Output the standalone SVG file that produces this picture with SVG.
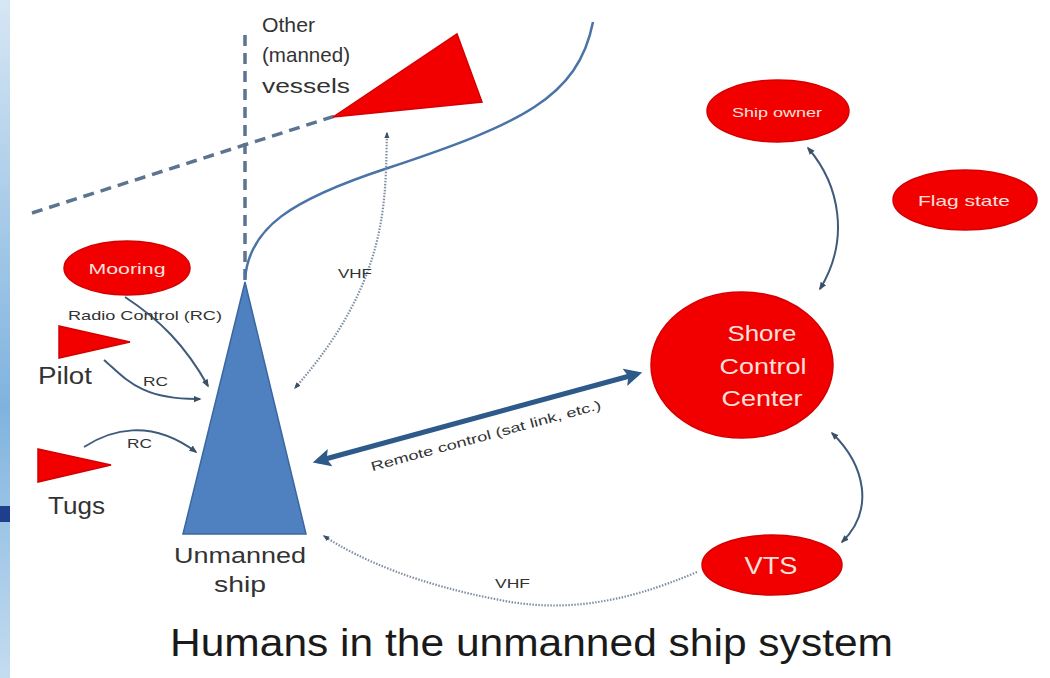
<svg xmlns="http://www.w3.org/2000/svg" width="1050" height="678" viewBox="0 0 1050 678">
<defs>
<linearGradient id="band" x1="0" y1="0" x2="0" y2="1">
<stop offset="0" stop-color="#d6e6f4"/>
<stop offset="0.6" stop-color="#7fb3de"/>
<stop offset="1" stop-color="#c4dcf0"/>
</linearGradient>
<marker id="ah" viewBox="0 0 10 10" refX="8" refY="5" markerWidth="4" markerHeight="4" orient="auto-start-reverse" markerUnits="strokeWidth">
<path d="M0,1 L10,5 L0,9 z" fill="#3b4f66"/>
</marker>
<marker id="ahd" viewBox="0 0 10 10" refX="8" refY="5" markerWidth="3" markerHeight="3" orient="auto-start-reverse" markerUnits="strokeWidth">
<path d="M0,1 L10,5 L0,9 z" fill="#3b4f66"/>
</marker>
<marker id="ahb" viewBox="0 0 10 10" refX="7" refY="5" markerWidth="3.6" markerHeight="3.6" orient="auto-start-reverse" markerUnits="strokeWidth">
<path d="M0,0 L10,5 L0,10 L2,5 z" fill="#2e5a8a"/>
</marker>
</defs>
<style>
.lbl{font-family:"Liberation Sans",Arial,sans-serif;fill:#333}
.wt{font-family:"Liberation Sans",Arial,sans-serif;fill:#fbe0dc}
.red{fill:#f20000;stroke:#d40000;stroke-width:1.5}
.solid{fill:none;stroke:#3f5b7c;stroke-width:2}
.dot{fill:none;stroke:#7f8fa3;stroke-width:2.2;stroke-dasharray:1.5 1.5}
.dash{fill:none;stroke:#5b7490;stroke-width:3.5;stroke-dasharray:11 7}
</style>
<rect width="1050" height="678" fill="#ffffff"/>
<rect x="0" y="0" width="10" height="678" fill="url(#band)"/>
<rect x="0" y="506" width="10" height="16" fill="#1f3f8c"/>

<g id="sea-lanes">
<path class="dash" d="M245,35 L245,280"/>
<path class="dash" d="M32,213 L335,116"/>
<path d="M245,279 C249,228 290,200 388,168 C520,124 578,98 593,22" fill="none" stroke="#4a73a6" stroke-width="2.5"/>
</g>

<g id="other-vessels">
<polygon class="red" points="333,117 457,34 482,102"/>
<text class="lbl" font-size="21" x="262" y="32" textLength="53" lengthAdjust="spacingAndGlyphs">Other</text>
<text class="lbl" font-size="21" x="262" y="62" textLength="88" lengthAdjust="spacingAndGlyphs">(manned)</text>
<text class="lbl" font-size="21" x="262" y="93" textLength="88" lengthAdjust="spacingAndGlyphs">vessels</text>
</g>

<g id="unmanned-ship">
<polygon points="245,282 183,534 306,534" fill="#4f81c0" stroke="#3a67a0" stroke-width="1.5"/>
<text class="lbl" font-size="22" x="240" y="563" text-anchor="middle" textLength="132" lengthAdjust="spacingAndGlyphs">Unmanned</text>
<text class="lbl" font-size="22" x="240" y="592" text-anchor="middle" textLength="52" lengthAdjust="spacingAndGlyphs">ship</text>
</g>

<g id="mooring">
<ellipse class="red" cx="127" cy="268" rx="63" ry="27"/>
<text class="wt" font-size="15" x="127" y="274" text-anchor="middle" textLength="77" lengthAdjust="spacingAndGlyphs">Mooring</text>
</g>

<g id="pilot">
<polygon class="red" points="59,326 130,342 59,358"/>
<text class="lbl" font-size="23" x="38" y="384" textLength="54" lengthAdjust="spacingAndGlyphs">Pilot</text>
</g>

<g id="tugs">
<polygon class="red" points="38,449 111,465 38,482"/>
<text class="lbl" font-size="23" x="48" y="514" textLength="57" lengthAdjust="spacingAndGlyphs">Tugs</text>
</g>

<g id="shore-control-center">
<ellipse class="red" cx="742" cy="365" rx="91" ry="73"/>
<text class="wt" font-size="22" x="762" y="341" text-anchor="middle" textLength="69" lengthAdjust="spacingAndGlyphs">Shore</text>
<text class="wt" font-size="22" x="763" y="374" text-anchor="middle" textLength="87" lengthAdjust="spacingAndGlyphs">Control</text>
<text class="wt" font-size="22" x="762" y="406" text-anchor="middle" textLength="81" lengthAdjust="spacingAndGlyphs">Center</text>
</g>

<g id="ship-owner">
<ellipse class="red" cx="778" cy="111" rx="71" ry="31"/>
<text class="wt" font-size="12" x="777" y="117" text-anchor="middle" textLength="90" lengthAdjust="spacingAndGlyphs">Ship owner</text>
</g>

<g id="flag-state">
<ellipse class="red" cx="965" cy="200" rx="72" ry="30"/>
<text class="wt" font-size="15" x="964" y="206" text-anchor="middle" textLength="92" lengthAdjust="spacingAndGlyphs">Flag state</text>
</g>

<g id="vts">
<ellipse class="red" cx="772" cy="565" rx="70" ry="30"/>
<text class="wt" font-size="24" x="771" y="574" text-anchor="middle" textLength="53" lengthAdjust="spacingAndGlyphs">VTS</text>
</g>

<g id="connectors">
<path class="solid" d="M125,297 C160,320 185,345 208,386" marker-end="url(#ah)"/>
<path class="solid" d="M104,360 C125,378 140,400 200,399" marker-end="url(#ah)"/>
<path class="solid" d="M84,447 C110,430 150,418 196,452" marker-end="url(#ah)"/>
<path class="dot" d="M387,133 C385,200 390,280 295,388" marker-start="url(#ahd)" marker-end="url(#ahd)"/>
<path class="dot" d="M697,572 C620,605 560,612 500,600 C420,585 360,560 324,536" marker-end="url(#ahd)"/>
<path class="solid" d="M808,148 C840,185 850,240 820,289" marker-start="url(#ah)" marker-end="url(#ah)"/>
<path class="solid" d="M832,433 C865,465 875,510 842,542" marker-start="url(#ah)" marker-end="url(#ah)"/>
<line x1="318" y1="461" x2="637" y2="374" stroke="#2e5a8a" stroke-width="5" marker-start="url(#ahb)" marker-end="url(#ahb)"/>
<text class="lbl" font-size="13" x="68" y="320" textLength="154" lengthAdjust="spacingAndGlyphs">Radio Control (RC)</text>
<text class="lbl" font-size="13" x="143" y="386" textLength="25" lengthAdjust="spacingAndGlyphs">RC</text>
<text class="lbl" font-size="13" x="127" y="448" textLength="25" lengthAdjust="spacingAndGlyphs">RC</text>
<text class="lbl" font-size="13" x="338" y="278" textLength="34" lengthAdjust="spacingAndGlyphs">VHF</text>
<text class="lbl" font-size="13" x="495" y="588" textLength="35" lengthAdjust="spacingAndGlyphs">VHF</text>
<text class="lbl" font-size="13" transform="translate(487,440) rotate(-15.2)" text-anchor="middle" textLength="238" lengthAdjust="spacingAndGlyphs">Remote control (sat link, etc.)</text>
</g>

<text class="lbl" font-size="38" x="170" y="656" style="fill:#1a1a1a" textLength="723" lengthAdjust="spacingAndGlyphs">Humans in the unmanned ship system</text>
</svg>
